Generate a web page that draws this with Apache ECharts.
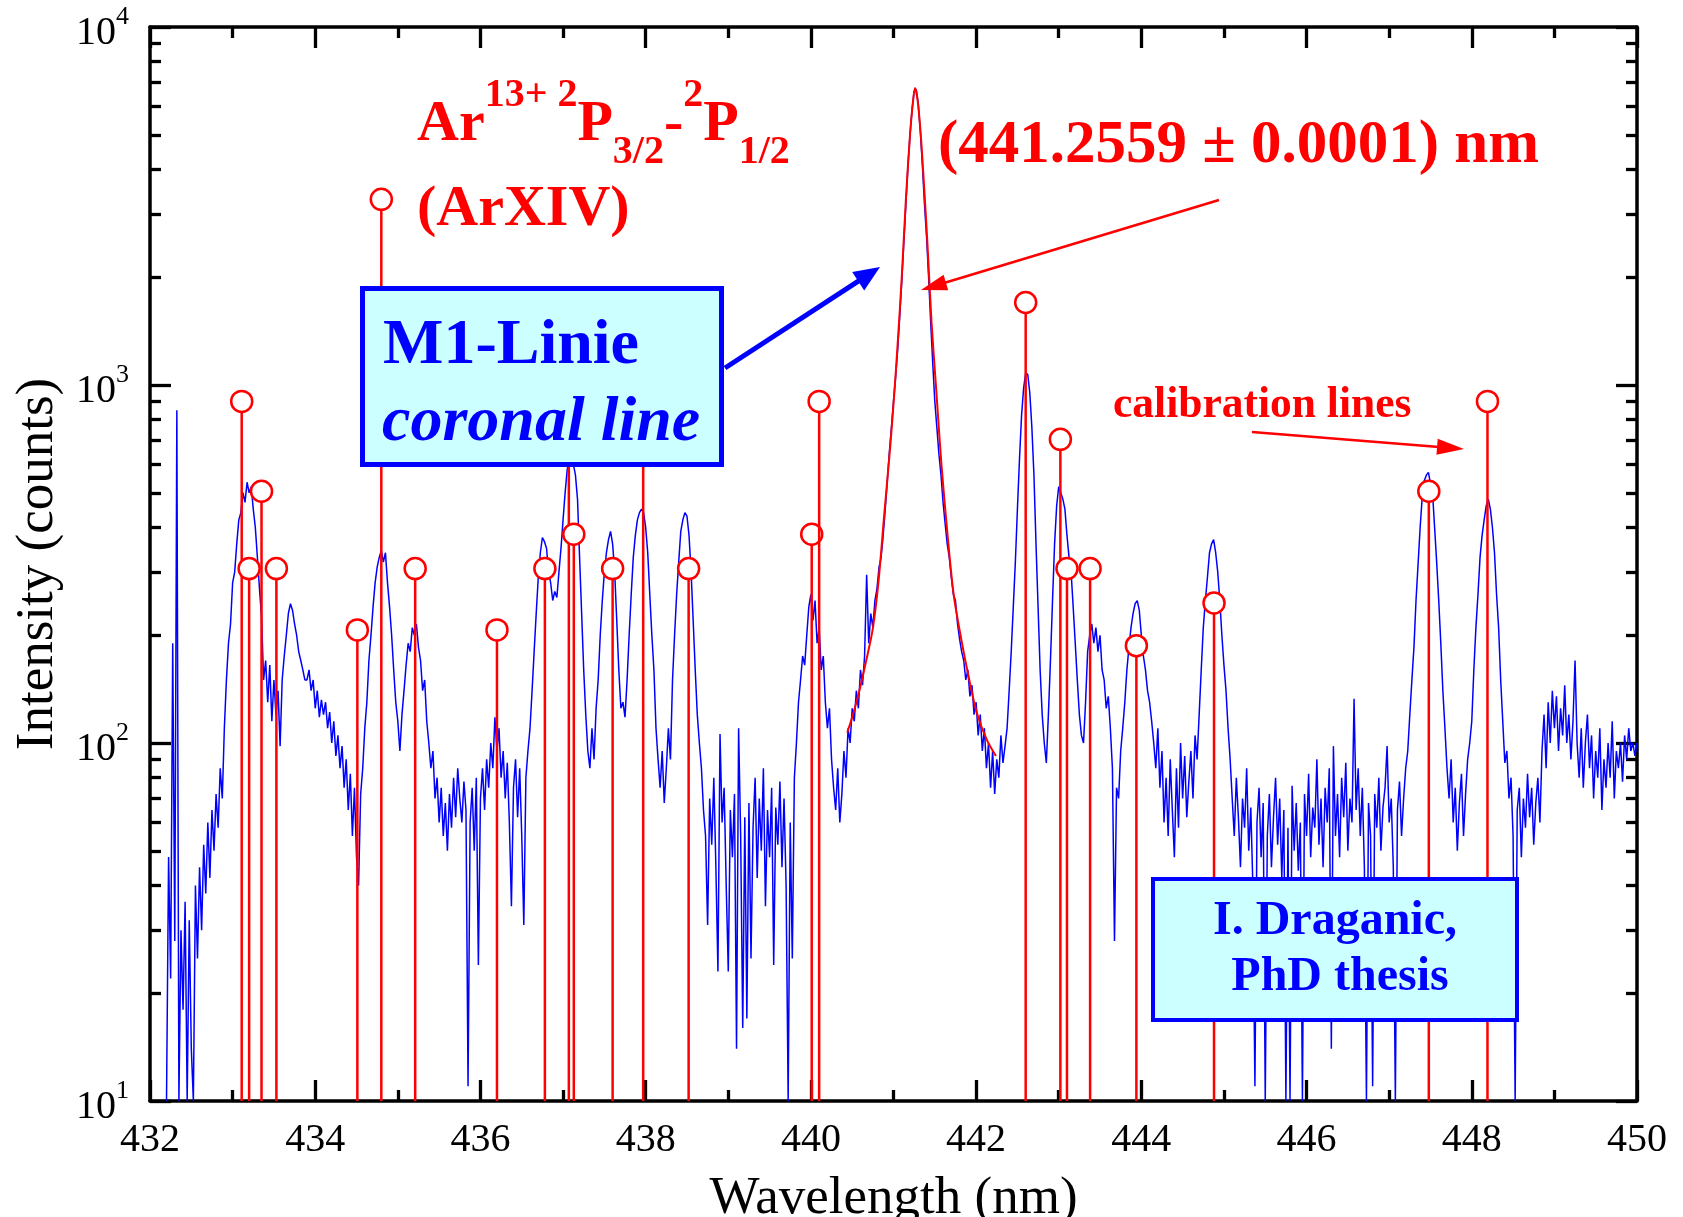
<!DOCTYPE html>
<html>
<head>
<meta charset="utf-8">
<script src="https://cdn.jsdelivr.net/npm/echarts@6/dist/echarts.min.js"></script>
<style>
  html, body { margin: 0; padding: 0; background: #ffffff; }
  #chart { width: 1683px; height: 1217px; }
</style>
</head>
<body>
<div id="chart"></div>
<script>
// Measured spectrum: counts sampled every 0.025 nm from 432.2 nm to 450.0 nm
const wlStart = 432.2;
const wlStep = 0.025;
const counts = [
  10,48,22,190,28,850,10,30,18,36,10,32,14,10,40,25,45,30,52,38,60,42,65,50,72,58,85,70,110,
  150,190,215,280,300,360,420,440,500,470,535,500,520,450,400,330,270,225,150,170,130,165,115,150,
  120,140,98,150,175,200,230,245,235,215,200,180,170,160,150,
  150,160,140,150,125,140,118,132,
  120,130,110,122,100,115,92,105,85,98,75,90,65,82,55,75,48,40,72,
  85,110,130,170,200,240,280,310,330,345,320,340,280,240,200,160,130,
  115,95,120,140,165,190,180,210,200,215,185,170,140,150,115,100,85,95,70,80,60,75,55,68,50,72,58,80,62,85,70,60,78,65,
  11,60,75,50,80,24,70,85,65,90,75,100,85,118,95,110,80,95,70,88,60,35,75,90,62,85,55,31,80,95,110,
  140,180,230,290,340,375,365,350,300,280,250,265,255,300,350,420,500,580,620,650,600,560,480,
  330,230,160,120,95,85,110,90,125,150,200,250,300,340,370,390,360,300,220,160,125,130,118,150,200,260,330,380,420,440,450,440,400,
  340,260,200,160,110,90,75,95,68,85,110,90,150,200,260,320,390,420,440,430,380,300,220,160,120,100,85,65,
  55,31,70,52,80,45,23,106,60,75,40,23,65,48,72,14,110,55,16,62,17,68,25,58,80,42,70,50,85,35,65,48,75,24,66,52,78,45,70,40,10,60,25,80,
  100,130,150,175,165,200,240,260,220,250,190,210,160,175,130,110,125,90,75,65,85,60,72,95,80,110,100,125,115,140,125,160,145,175,
  295,190,230,210,250,270,310,330,380,450,540,650,760,900,1050,1250,1550,1950,2500,3200,4100,5000,5900,6600,6700,6100,5100,4100,3200,2600,2000,1500,1150,900,
  760,640,560,470,410,360,330,290,260,250,215,195,180,170,150,160,135,145,120,130,105,120,95,110,85,100,75,95,72,90,80,105,88,98,110,
  140,180,240,320,450,620,820,980,1080,1070,950,760,560,360,240,160,120,100,88,120,170,250,360,460,520,500,480,450,380,330,300,240,190,150,120,105,100,
  130,180,200,215,190,210,180,200,160,150,125,135,110,85,28,75,70,95,110,130,160,185,210,230,245,250,235,200,175,160,140,130,115,100,85,
  110,75,95,60,80,55,90,65,48,85,58,100,70,92,62,78,95,70,105,90,120,160,210,250,290,340,360,370,340,300,250,200,165,140,110,90,70,
  55,80,62,45,70,58,85,50,66,40,11,60,75,48,68,10,55,72,45,62,80,52,70,42,65,10,58,10,76,50,68,44,60,10,72,55,82,48,66,58,90,52,70,45,75,60,85,14,
  98,55,72,48,80,62,88,50,70,60,133,65,85,55,75,45,10,68,55,11,72,58,80,50,66,75,98,60,70,45,10,65,78,55,70,85,
  95,120,150,185,250,316,400,486,540,560,570,530,500,400,320,250,190,140,110,85,70,90,60,75,50,68,82,55,72,90,100,115,
  160,210,260,330,380,420,460,480,450,400,340,260,210,150,115,88,95,70,80,55,10,65,75,48,70,58,82,62,75,52,68,80,60,95,
  120,85,130,100,140,110,135,95,125,105,145,100,120,90,115,170,100,80,110,75,100,120,85,105,70,95,80,110,65,90,75,100,80,115,70,95,85,100,78,105,90,110,95,100,92,100
];

// Calibration lines (wavelength in nm, relative intensity in counts)
const calibWl = [433.11, 433.20, 433.35, 433.53, 434.51, 434.80, 435.21, 436.20, 436.78, 437.07, 437.13, 437.60,
                 437.97, 438.52, 440.01, 440.10, 442.60, 443.02, 443.10, 443.38, 443.94, 444.88, 447.48, 448.19];
const calibCounts = [900, 307, 505, 307, 207, 3300, 307, 207, 307, 1000, 383, 307,
                     1200, 307, 383, 900, 1700, 705, 307, 307, 187, 246, 505, 900];

// Line-profile fit of the Ar XIV transition
const fitWl = [440.44, 440.50, 440.57, 440.66, 440.75, 440.82, 440.89, 440.96, 441.01, 441.05, 441.10, 441.15, 441.20,
               441.23, 441.26, 441.29, 441.33, 441.37, 441.41, 441.46, 441.52, 441.58, 441.66, 441.73, 441.82, 441.92,
               442.01, 442.13, 442.24];
const fitCounts = [107, 118, 135, 166, 209, 285, 440, 672, 950, 1300, 2000, 3300, 5000,
                   6000, 6750, 6300, 5000, 3600, 2500, 1500, 950, 600, 369, 258, 195, 149,
                   121, 102, 92];

// Axis ranges
const xMin = 432, xMax = 450, xInterval = 2;
const yMin = 10, yMax = 10000;

const FONT = '"Liberation Serif", "Times New Roman", Times, serif';
const RED = '#ff0000';
const BLUE = '#0000ff';
const CYAN = '#ccffff';
const BASE_SHIFT = 0.265;   // em offset from the text middle line down to the baseline

const spectrum = counts.map((c, i) => [+(wlStart + i * wlStep).toFixed(3), c]);
const fitLine = fitWl.map((w, i) => [w, fitCounts[i]]);
const calib = calibWl.map((w, i) => [w, calibCounts[i]]);

const measureCtx = document.createElement('canvas').getContext('2d');
function textWidth(str, font) {
  measureCtx.font = font;
  return measureCtx.measureText(str).width;
}

// Places a run of text pieces (with super/subscripts) on a common baseline
function textRun(parts, x, baseline, color, z) {
  let cx = x;
  const out = [];
  parts.forEach(p => {
    const font = (p.italic ? 'italic ' : '') + 'bold ' + p.size + 'px ' + FONT;
    const yb = baseline - (p.rise || 0);
    out.push({
      type: 'text', x: cx, y: yb - BASE_SHIFT * p.size, z: z,
      style: { text: p.t, font: font, fill: color,
               textAlign: 'left', textVerticalAlign: 'middle', align: 'left', verticalAlign: 'middle' }
    });
    cx += textWidth(p.t, font);
  });
  return out;
}

function centeredText(str, cx, baseline, size, color, z) {
  const font = 'bold ' + size + 'px ' + FONT;
  return {
    type: 'text', x: cx, y: baseline - BASE_SHIFT * size, z: z,
    style: { text: str, font: font, fill: color,
             textAlign: 'center', textVerticalAlign: 'middle', align: 'center', verticalAlign: 'middle' }
  };
}

function arrow(x1, y1, x2, y2, headLen, headHalf, color, width, z) {
  const dx = x2 - x1, dy = y2 - y1;
  const len = Math.sqrt(dx * dx + dy * dy);
  const ux = dx / len, uy = dy / len;
  const bx = x2 - ux * headLen, by = y2 - uy * headLen;
  return [
    { type: 'line', z: z, shape: { x1: x1, y1: y1, x2: bx + ux * 2, y2: by + uy * 2 },
      style: { stroke: color, lineWidth: width } },
    { type: 'polygon', z: z,
      shape: { points: [[x2, y2], [bx - uy * headHalf, by + ux * headHalf], [bx + uy * headHalf, by - ux * headHalf]] },
      style: { fill: color } }
  ];
}

const graphics = [].concat(
  textRun([
    { t: 'Ar', size: 58 }, { t: '13+', size: 40, rise: 34 }, { t: ' ', size: 40 },
    { t: '2', size: 40, rise: 34 }, { t: 'P', size: 58 }, { t: '3/2', size: 40, rise: -23 },
    { t: '-', size: 58 }, { t: '2', size: 40, rise: 34 }, { t: 'P', size: 58 }, { t: '1/2', size: 40, rise: -23 }
  ], 417, 140, RED, 110),
  textRun([{ t: '(ArXIV)', size: 58 }], 417, 225, RED, 110),
  textRun([{ t: '(441.2559 \u00b1 0.0001) nm', size: 61 }], 938, 162, RED, 110),
  arrow(1219, 200, 921, 290, 26, 8, RED, 2.5, 105),
  textRun([{ t: 'calibration lines', size: 43.5 }], 1113, 417, RED, 110),
  arrow(1252, 432, 1464, 449, 27, 8, RED, 2.5, 105),
  arrow(725, 368, 880, 267, 26, 11, BLUE, 5, 105),
  [{ type: 'rect', z: 100, shape: { x: 362.5, y: 288.5, width: 359, height: 176 },
     style: { fill: CYAN, stroke: BLUE, lineWidth: 5 } }],
  textRun([{ t: 'M1-Linie', size: 64 }], 383, 363, BLUE, 110),
  textRun([{ t: 'coronal line', size: 64, italic: true }], 382, 440, BLUE, 110),
  [{ type: 'rect', z: 100, shape: { x: 1153, y: 879, width: 364, height: 141 },
     style: { fill: CYAN, stroke: BLUE, lineWidth: 4 } }],
  [centeredText('I. Draganic,', 1335, 934, 48, BLUE, 110),
   centeredText('PhD thesis', 1340, 990, 48, BLUE, 110)]
);

const tickStyle = { color: '#000', width: 3.3 };
const axisLineStyle = { color: '#000', width: 3.5 };

function xAxisDef(pos, showLabels) {
  return {
    type: 'value', position: pos, min: xMin, max: xMax, interval: xInterval,
    axisLine: { show: true, onZero: false, lineStyle: axisLineStyle },
    axisTick: { show: true, inside: true, length: 21, lineStyle: tickStyle },
    minorTick: { show: true, splitNumber: 2, length: 11, lineStyle: tickStyle },
    splitLine: { show: false }, minorSplitLine: { show: false },
    axisLabel: { show: showLabels, margin: 19, fontFamily: FONT, fontSize: 40, color: '#000' },
    name: showLabels ? 'Wavelength (nm)' : '', nameLocation: 'middle', nameGap: 72,
    nameTextStyle: { fontFamily: FONT, fontSize: 53, color: '#000' }
  };
}

function yAxisDef(pos, showLabels) {
  return {
    type: 'log', logBase: 10, position: pos, min: yMin, max: yMax,
    axisLine: { show: true, onZero: false, lineStyle: axisLineStyle },
    axisTick: { show: true, inside: true, length: 21, lineStyle: tickStyle },
    minorTick: { show: true, splitNumber: 9, length: 11, lineStyle: tickStyle },
    splitLine: { show: false }, minorSplitLine: { show: false },
    axisLabel: {
      show: showLabels, margin: 21,
      formatter: v => '{b|10}{s|' + Math.round(Math.log10(v)) + '}',
      rich: {
        b: { fontFamily: FONT, fontSize: 40, lineHeight: 40, color: '#000', padding: [13, 0, 0, 0] },
        s: { fontFamily: FONT, fontSize: 26, lineHeight: 26, color: '#000', padding: [0, 0, 20, 0] }
      }
    },
    name: showLabels ? 'Intensity (counts)' : '', nameLocation: 'middle', nameGap: 85, nameRotate: 90,
    nameTextStyle: { fontFamily: FONT, fontSize: 53, color: '#000' }
  };
}

const chart = echarts.init(document.getElementById('chart'), null, { renderer: 'canvas' });
chart.setOption({
  animation: false,
  backgroundColor: '#ffffff',
  grid: { left: 150, right: 46, top: 27, bottom: 116, containLabel: false, outerBoundsMode: 'none' },
  xAxis: [xAxisDef('bottom', true), xAxisDef('top', false)],
  yAxis: [yAxisDef('left', true), yAxisDef('right', false)],
  series: [
    {
      name: 'spectrum', type: 'line', data: spectrum, xAxisIndex: 0, yAxisIndex: 0,
      showSymbol: false, symbol: 'none', sampling: 'none', z: 2,
      lineStyle: { color: BLUE, width: 1.5 }
    },
    {
      name: 'calibration', type: 'custom', data: calib, xAxisIndex: 0, yAxisIndex: 0, z: 4,
      encode: { x: 0, y: 1 },
      renderItem: function (params, api) {
        const top = api.coord([api.value(0), api.value(1)]);
        const base = api.coord([api.value(0), yMin]);
        return {
          type: 'group',
          children: [
            { type: 'line', shape: { x1: top[0], y1: top[1], x2: base[0], y2: base[1] },
              style: { stroke: RED, lineWidth: 2.5 } },
            { type: 'circle', shape: { cx: top[0], cy: top[1], r: 10.5 },
              style: { fill: '#ffffff', stroke: RED, lineWidth: 2.5 } }
          ]
        };
      }
    },
    {
      name: 'fit', type: 'line', data: fitLine, xAxisIndex: 0, yAxisIndex: 0,
      showSymbol: false, symbol: 'none', smooth: 0.3, z: 3,
      lineStyle: { color: RED, width: 2 }
    }
  ],
  graphic: { elements: graphics }
});
</script>
</body>
</html>
